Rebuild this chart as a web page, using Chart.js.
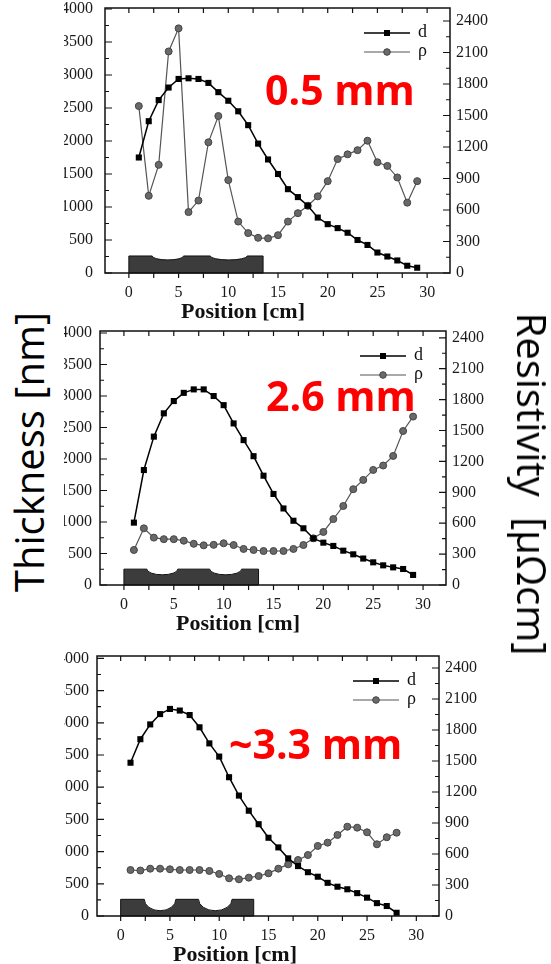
<!DOCTYPE html>
<html>
<head>
<meta charset="utf-8">
<script src="https://cdn.jsdelivr.net/npm/chart.js@4.4.1/dist/chart.umd.min.js"></script>
<style>
  body { margin:0; background:#fff; width:551px; height:964px; overflow:hidden; position:relative; }
  canvas.panel { position:absolute; left:0; }
  #mask { position:absolute; left:0; top:0; width:64px; height:964px; background:#fff; }
  .tag { position:absolute; color:#f00; font:bold 41px "Open Sans"; line-height:41px; white-space:nowrap; }
  .axisname { position:absolute; font:40px "Open Sans"; line-height:40px; color:#000; white-space:nowrap; }
</style>
</head>
<body>
<canvas id="c1" class="panel" width="551" height="325" style="top:0"></canvas>
<canvas id="c2" class="panel" width="551" height="320" style="top:325px"></canvas>
<canvas id="c3" class="panel" width="551" height="319" style="top:645px"></canvas>
<div id="mask"></div>
<div class="tag" style="left:265px;top:69px">0.5 mm</div>
<div class="tag" style="left:266px;top:375px">2.6 mm</div>
<div class="tag" style="left:229px;top:723px">~3.3 mm</div>
<div class="axisname" style="left:29px;top:452px;transform:translate(-50%,-50%) rotate(-90deg)">Thickness [nm]</div>
<div class="axisname" style="left:532px;top:484px;word-spacing:10px;transform:translate(-50%,-50%) rotate(90deg)">Resistivity [µΩcm]</div>
<script>
// positions along the substrate [cm]
var positions = [1,2,3,4,5,6,7,8,9,10,11,12,13,14,15,16,17,18,19,20,21,22,23,24,25,26,27,28,29];
var positions3 = [1,2,3,4,5,6,7,8,9,10,11,12,13,14,15,16,17,18,19,20,21,22,23,24,25,26,27,28];

// 0.5 mm
var thick1 = [1750,2300,2620,2810,2940,2950,2940,2880,2740,2610,2450,2240,1960,1720,1500,1270,1150,1020,840,740,680,610,500,425,310,250,190,110,80];
var resist1 = [1590,735,1030,2110,2330,580,690,1245,1495,885,490,380,335,330,360,490,570,640,730,875,1085,1130,1170,1260,1055,1020,910,670,875];

// 2.6 mm
var thick2 = [990,1825,2355,2725,2920,3050,3105,3105,3000,2855,2565,2300,2045,1735,1445,1215,1020,900,740,672,620,545,487,420,360,312,280,254,160];
var resist2 = [340,550,460,445,445,430,400,385,390,405,388,350,340,330,330,330,350,388,453,515,640,767,930,1020,1117,1160,1253,1495,1635];

// ~3.3 mm
var thick3 = [2380,2745,2975,3135,3215,3190,3120,2930,2680,2475,2155,1870,1635,1425,1215,1065,895,775,680,610,515,455,415,355,285,200,155,50];
var resist3 = [445,440,458,458,452,445,445,445,436,407,365,355,371,387,413,458,500,542,590,678,710,784,864,855,810,694,762,806];

var xTicks = [0,5,10,15,20,25,30];
var leftTicks = [0,500,1000,1500,2000,2500,3000,3500,4000];
var rightTicks = [0,300,600,900,1200,1500,1800,2100,2400];

var tickFont = { family: 'Liberation Serif', size: 16, lineHeight: 1 };

function pts(xs, ys) {
  return ys.map(function (v, i) { return { x: xs[i], y: v }; });
}

function plain(v) { return String(v); }

function noOverhang(s) {
  s.paddingTop = 0; s.paddingBottom = 0; s.paddingLeft = 0; s.paddingRight = 0;
}

var decor = {
  id: 'decor',
  beforeDatasetsDraw: function (chart, args, o) {
    var ctx = chart.ctx, x = chart.scales.x, y = chart.scales.y;
    var top = y.getPixelForValue(o.targetTop);
    var depth = y.getPixelForValue(o.targetTop - o.dipDepth) - top;
    ctx.save();
    ctx.beginPath();
    ctx.moveTo(x.getPixelForValue(0), y.getPixelForValue(0));
    ctx.lineTo(x.getPixelForValue(0), top);
    o.dips.forEach(function (d) {
      var xa = x.getPixelForValue(d[0]), xb = x.getPixelForValue(d[1]);
      ctx.lineTo(xa, top);
      ctx.ellipse((xa + xb) / 2, top, (xb - xa) / 2, depth, 0, Math.PI, 0, true);
    });
    ctx.lineTo(x.getPixelForValue(13.5), top);
    ctx.lineTo(x.getPixelForValue(13.5), y.getPixelForValue(0));
    ctx.closePath();
    ctx.fillStyle = '#3c3c3c';
    ctx.fill();
    ctx.strokeStyle = '#111';
    ctx.lineWidth = 1;
    ctx.stroke();
    ctx.restore();
  },
  afterDatasetsDraw: function (chart, args, o) {
    var ctx = chart.ctx, a = chart.chartArea;
    var x = chart.scales.x, y = chart.scales.y, y1 = chart.scales.y1;
    ctx.save();
    ctx.strokeStyle = '#111';
    ctx.lineWidth = 1.5;
    ctx.strokeRect(a.left, a.top, a.right - a.left, a.bottom - a.top);

    ctx.lineWidth = 1.2;
    ctx.beginPath();
    for (var v = 0; v <= 30; v += 2.5) {
      var px = x.getPixelForValue(v);
      ctx.moveTo(px, a.bottom); ctx.lineTo(px, a.bottom + 5);
      ctx.moveTo(px, a.top); ctx.lineTo(px, a.top + 5);
    }
    for (v = 0; v <= 4000; v += 250) {
      var py = y.getPixelForValue(v);
      ctx.moveTo(a.left, py); ctx.lineTo(a.left + (v % 500 === 0 ? 7 : 4), py);
    }
    for (v = 0; v <= 2400; v += 150) {
      py = y1.getPixelForValue(v);
      ctx.moveTo(a.right, py); ctx.lineTo(a.right - (v % 300 === 0 ? 7 : 4), py);
    }
    ctx.stroke();

    // legend
    var x1 = a.right - 86, x2 = a.right - 40, xm = (x1 + x2) / 2;
    var rows = [
      { y: a.top + 25, line: '#000', fill: '#000', label: 'd', sq: true },
      { y: a.top + 44, line: '#555', fill: '#6a6a6a', label: 'ρ', sq: false }
    ];
    ctx.font = '18px "Liberation Serif"';
    ctx.textBaseline = 'middle';
    ctx.textAlign = 'left';
    rows.forEach(function (r) {
      ctx.strokeStyle = r.line;
      ctx.lineWidth = r.sq ? 1.5 : 1.2;
      ctx.beginPath(); ctx.moveTo(x1, r.y); ctx.lineTo(x2, r.y); ctx.stroke();
      ctx.fillStyle = r.fill;
      if (r.sq) {
        ctx.fillRect(xm - 3, r.y - 3, 6, 6);
      } else {
        ctx.beginPath(); ctx.arc(xm, r.y, 3.3, 0, Math.PI * 2); ctx.fill();
        ctx.strokeStyle = '#444'; ctx.lineWidth = 1; ctx.stroke();
      }
      ctx.fillStyle = '#111';
      ctx.fillText(r.label, x2 + 8, r.y - 1);
    });

    ctx.font = 'bold 22px "Liberation Serif"';
    ctx.textAlign = 'center';
    ctx.fillStyle = '#111';
    ctx.fillText('Position [cm]', a.left + 138, a.bottom + 39);
    ctx.restore();
  }
};

function makePanel(id, xs, d, rho, p) {
  new Chart(document.getElementById(id), {
    type: 'line',
    data: {
      datasets: [
        { label: 'd', data: pts(xs, d), yAxisID: 'y', borderColor: '#000', backgroundColor: '#000',
          borderWidth: 1.5, pointStyle: 'rect', pointRadius: 4.3, pointBorderWidth: 0, order: 0 },
        { label: 'ρ', data: pts(xs, rho), yAxisID: 'y1', borderColor: '#555', backgroundColor: '#686868',
          pointBorderColor: '#444', borderWidth: 1.2, pointStyle: 'circle', pointRadius: 3.5, pointBorderWidth: 1, order: 1 }
      ]
    },
    options: {
      responsive: false,
      animation: false,
      devicePixelRatio: 1,
      layout: { padding: p.pad },
      plugins: {
        legend: { display: false },
        tooltip: { enabled: false },
        decor: { targetTop: p.targetTop, dipDepth: p.dipDepth, dips: p.dips }
      },
      scales: {
        x: {
          type: 'linear', min: -2.4, max: 32.3,
          grid: { display: false, drawTicks: false }, border: { display: false },
          ticks: { font: tickFont, color: '#1a1a1a', padding: 12, maxRotation: 0, callback: plain },
          afterBuildTicks: function (s) { s.ticks = xTicks.map(function (v) { return { value: v }; }); },
          afterFit: function (s) { s.height = 30; noOverhang(s); }
        },
        y: {
          position: 'left', min: 0, max: p.leftMax,
          grid: { display: false, drawTicks: false }, border: { display: false },
          ticks: { font: tickFont, color: '#1a1a1a', padding: p.leftPad, callback: plain },
          afterBuildTicks: function (s) { s.ticks = leftTicks.map(function (v) { return { value: v }; }); },
          afterFit: function (s) { s.width = 50; noOverhang(s); }
        },
        y1: {
          position: 'right', min: 0, max: p.rightMax,
          grid: { display: false, drawTicks: false }, border: { display: false },
          ticks: { font: tickFont, color: '#1a1a1a', padding: 6, callback: plain },
          afterBuildTicks: function (s) { s.ticks = rightTicks.map(function (v) { return { value: v }; }); },
          afterFit: function (s) { s.width = 50; noOverhang(s); }
        }
      }
    },
    plugins: [decor]
  });
}

makePanel('c1', positions, thick1, resist1, {
  pad: { left: 55, right: 51, top: 8, bottom: 22 }, leftMax: 4015, rightMax: 2524, leftPad: 12,
  targetTop: 258, dipDepth: 60, dips: [[2.35, 5.5], [8.2, 11.9]]
});
makePanel('c2', positions, thick2, resist2, {
  pad: { left: 50, right: 55, top: 6, bottom: 30 }, leftMax: 4032, rightMax: 2466, leftPad: 8,
  targetTop: 252, dipDepth: 90, dips: [[2.3, 5.4], [8.6, 11.8]]
});
makePanel('c3', positions3, thick3, resist3, {
  pad: { left: 47, right: 62, top: 11, bottom: 18 }, leftMax: 4037, rightMax: 2516, leftPad: 8,
  targetTop: 259, dipDepth: 177, dips: [[2.4, 5.6], [7.9, 11.3]]
});
</script>
</body>
</html>
